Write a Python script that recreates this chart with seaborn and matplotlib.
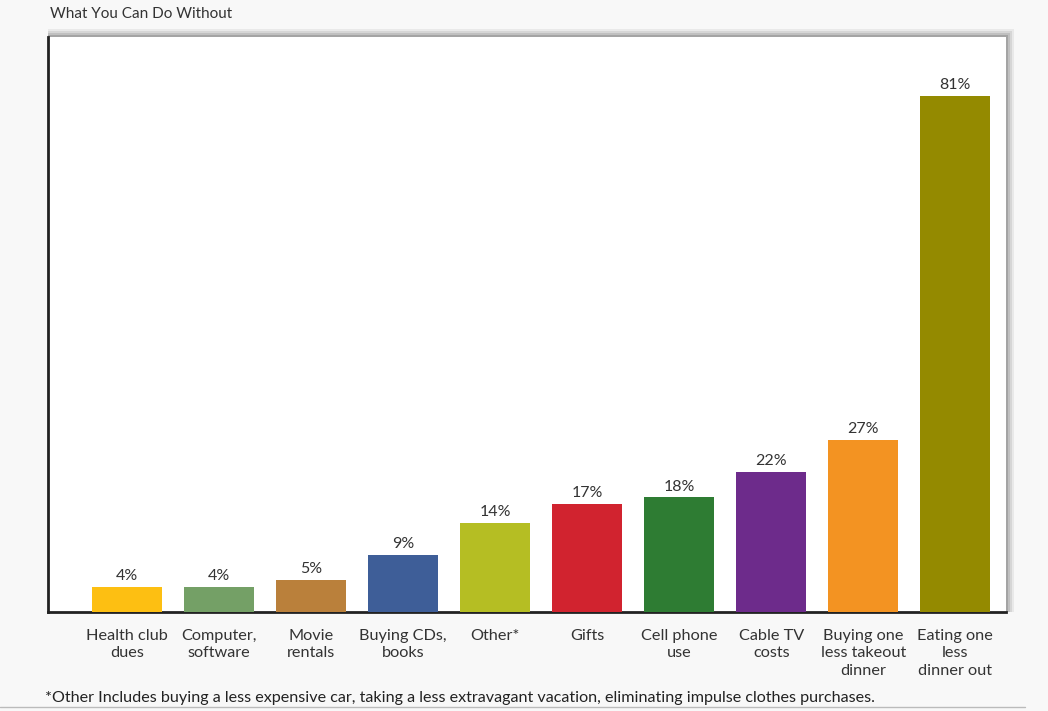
import matplotlib
matplotlib.use("Agg")
import matplotlib.pyplot as plt
from matplotlib.patches import Rectangle
import seaborn as sns
import pandas as pd

categories = ["Health club\ndues", "Computer,\nsoftware", "Movie\nrentals", "Buying CDs,\nbooks",
              "Other*", "Gifts", "Cell phone\nuse", "Cable TV\ncosts",
              "Buying one\nless takeout\ndinner", "Eating one\nless\ndinner out"]
values = [4, 4, 5, 9, 14, 17, 18, 22, 27, 81]
colors = ["#FDBF12", "#74A066", "#BA803B", "#3E5E98", "#B5BE23",
          "#D1232F", "#2E7C33", "#6D2B8B", "#F39322", "#948A00"]

df = pd.DataFrame({"cat": categories, "val": values})

sns.set_style("white")
plt.rcParams["font.family"] = ["Lato", "DejaVu Sans"]

fig = plt.figure(figsize=(10.48, 7.11), dpi=100, facecolor="#f8f8f8")
ax = fig.add_axes([48 / 1048, 1 - 612 / 711, (1006 - 48) / 1048, (612 - 37) / 711])
ax.set_facecolor("white")
ax.set_zorder(5)

# soft shadow on top and right of the plot box
for i, a in enumerate([0.06, 0.08, 0.10, 0.14]):
    off = (4 - i) * 2
    fig.patches.append(Rectangle((48 / 1048, (711 - 612) / 711),
                                 (1006 - 48 + off) / 1048, (612 - 37 + off) / 711,
                                 transform=fig.transFigure, facecolor="black",
                                 alpha=a, edgecolor="none", zorder=0))

sns.barplot(data=df, x="cat", y="val", hue="cat", palette=colors, legend=False,
            width=0.76, saturation=1, linewidth=0, ax=ax, zorder=3)

for i, v in enumerate(values):
    ax.text(i, v + 0.6, f"{v}%", ha="center", va="bottom", fontsize=11.5, color="#333333")

ax.set_xlim(-0.86, 9.55)
ax.set_ylim(0, 90.3)
ax.set_yticks([])
ax.set_xlabel("")
ax.set_ylabel("")
ax.tick_params(axis="x", length=0, pad=12, labelsize=11.7, labelcolor="#333333")
for lbl in ax.get_xticklabels():
    lbl.set_linespacing(1.33)
for s in ["top", "right"]:
    ax.spines[s].set_visible(False)
for s in ["left", "bottom"]:
    ax.spines[s].set_color("#222222")
    ax.spines[s].set_linewidth(2)

fig.text(50 / 1048, 1 - 14 / 711, "What You Can Do Without", ha="left", va="center",
         fontsize=11, color="#333333")
fig.text(45 / 1048, 1 - 698 / 711,
         "*Other Includes buying a less expensive car, taking a less extravagant vacation, eliminating impulse clothes purchases.",
         ha="left", va="center", fontsize=11.6, color="#222222")
fig.lines.append(plt.Line2D([0, 1025 / 1048], [1 - 707 / 711] * 2, transform=fig.transFigure,
                            color="#bbbbbb", linewidth=1))

fig.savefig("out.png", dpi=100, facecolor=fig.get_facecolor())
